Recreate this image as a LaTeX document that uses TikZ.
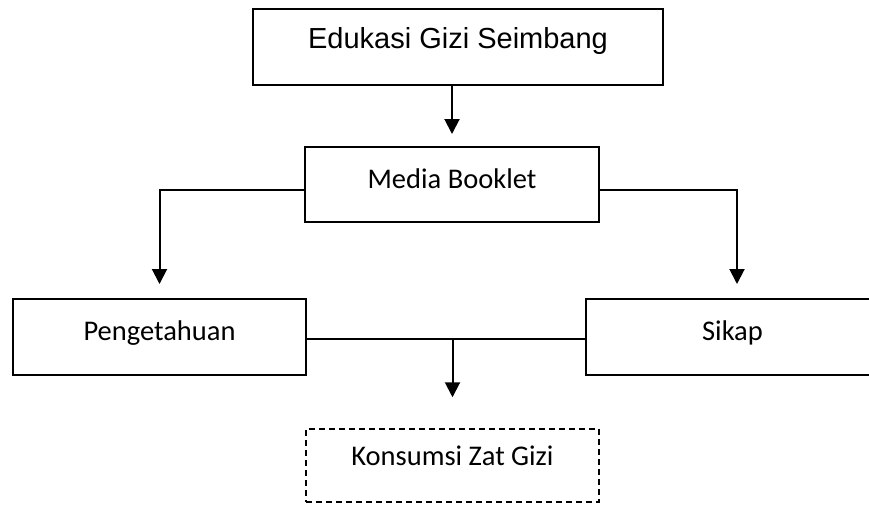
\documentclass[tikz,border=0pt]{standalone}
\usepackage{fontspec}
\setmainfont{Carlito}
\newfontfamily\arialfont{Liberation Sans}
\usetikzlibrary{arrows.meta}
\begin{document}
\begin{tikzpicture}[x=1pt,y=-1pt,
  box/.style={draw,line width=2pt,rectangle,inner sep=0pt,text height=20pt,font=\fontsize{28.5}{30}\selectfont},
  dbox/.style={box,line width=1.5pt,dash pattern=on 6pt off 4pt},
  conn/.style={line width=2pt},
  arr/.style={conn,-{Triangle[width=15pt,length=15pt]}}]
\clip (0,0) rectangle (869,504);
\useasboundingbox (0,0) rectangle (869,504);
\node[box,minimum width=410pt,minimum height=76pt,text depth=18pt,font=\arialfont\fontsize{29}{30}\selectfont] (top) at (458,47) {Edukasi Gizi Seimbang};
\node[box,minimum width=294pt,minimum height=75pt,text depth=12.4pt] (media) at (452,184.5) {Media Booklet};
\node[box,minimum width=293pt,minimum height=76pt,text depth=14pt] (peng) at (159.5,337) {Pengetahuan};
\node[box,minimum width=293pt,minimum height=76pt,text depth=14pt] (sikap) at (732.5,337) {Sikap};
\node[dbox,minimum width=293pt,minimum height=73pt,text depth=21pt] (kons) at (452.5,465.5) {Konsumsi Zat Gizi};
\draw[arr,shorten >=12pt] (media.north |- top.south) -- (media.north);
\draw[arr,shorten >=14pt] ([yshift=-5.5pt]media.west) -| (peng.north);
\draw[arr,shorten >=14pt] ([yshift=-5.5pt]media.east) -| ([xshift=4.5pt]sikap.north);
\draw[conn] ([yshift=-2pt]peng.east) -- ([yshift=-2pt]sikap.west);
\coordinate (mid) at ([yshift=-2pt]peng.east -| kons.north);
\draw[arr,shorten >=31pt] (mid) -- (kons.north);
\end{tikzpicture}
\end{document}
